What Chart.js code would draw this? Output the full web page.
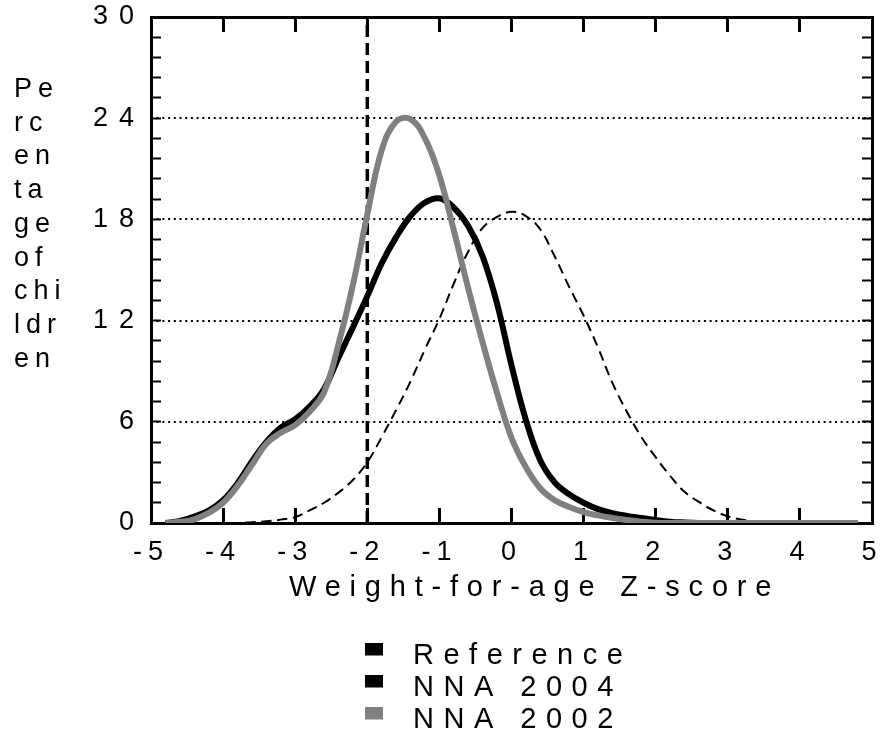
<!DOCTYPE html>
<html>
<head>
<meta charset="utf-8">
<script src="https://cdn.jsdelivr.net/npm/chart.js@4.4.1/dist/chart.umd.min.js"></script>
<style>
  html, body { margin: 0; padding: 0; background: #ffffff; }
  canvas { display: block; }
</style>
</head>
<body>
<canvas id="chart" width="882" height="742"></canvas>
<script>
// Z-score positions of the distribution points
const zScores = [
  -4.8, -4.6, -4.4, -4.2, -4.0, -3.8, -3.6, -3.4, -3.2, -3.0,
  -2.8, -2.6, -2.4, -2.2, -2.0, -1.8, -1.6, -1.4, -1.2, -1.0,
  -0.8, -0.6, -0.4, -0.2, 0.0, 0.2, 0.4, 0.6, 0.8, 1.0,
  1.2, 1.4, 1.6, 1.8, 2.0, 2.2, 2.4, 2.6, 2.8, 3.0,
  3.2, 3.4, 3.6, 3.8, 4.0, 4.2, 4.4, 4.6, 4.8
];

// Percentage of children at each Z-score
const referenceCurve = [
  0, 0, 0, 0, 0, 0, 0.05, 0.1, 0.2, 0.35,
  0.75, 1.2, 1.8, 2.55, 3.6, 5.1, 6.7, 8.4, 10.3, 12.1,
  14.2, 16.1, 17.5, 18.15, 18.45, 18.2, 17.4, 15.8, 14.0, 12.3,
  10.4, 8.3, 6.6, 5.1, 3.9, 2.8, 1.85, 1.25, 0.75, 0.4,
  0.2, 0.1, 0.05, 0, 0, 0, 0, 0, 0
];

const nna2004 = [
  0, 0.12, 0.38, 0.73, 1.35, 2.35, 3.65, 4.8, 5.65, 6.15,
  6.9, 7.95, 9.8, 11.6, 13.45, 15.4, 16.95, 18.2, 19.0, 19.25,
  18.7, 17.6, 15.8, 13.0, 9.35, 6.1, 3.7, 2.4, 1.7, 1.2,
  0.82, 0.58, 0.42, 0.3, 0.18, 0.08, 0.03, 0, 0, 0,
  0, 0, 0, 0, 0, 0, 0, 0, 0
];

const nna2002 = [
  0, 0.07, 0.22, 0.6, 1.2, 2.2, 3.45, 4.7, 5.35, 5.8,
  6.6, 7.75, 10.6, 14.1, 18.3, 22.1, 23.8, 23.95, 22.8, 20.6,
  17.35, 13.9, 10.7, 7.7, 5.05, 3.3, 2.05, 1.35, 0.95, 0.65,
  0.45, 0.3, 0.18, 0.08, 0.02, 0, 0, 0, 0, 0,
  0, 0, 0, 0, 0, 0, 0, 0, 0
];

// -2 SD cut-off for underweight
const cutoffZ = -2;

const xRange = [-5, 5];
const yRange = [0, 30];
const yTickLabels = [0, 6, 12, 18, 24, 30];
const yGridLines = [6, 12, 18, 24];

const seriesNames = ['Reference', 'NNA 2004', 'NNA 2002'];
const seriesColors = ['#000000', '#000000', '#808080'];

const xTitle = 'Weight-for-age Z-score';
const yTitleLines = ['Pe', 'rc', 'en', 'ta', 'ge', 'of', 'chi', 'ldr', 'en'];

const FONT = '"Liberation Sans", Arial, Helvetica, sans-serif';

// letter spacing used for each axis' tick labels
const labelSpacing = { x: '6px', y: '11px' };

const toPoints = (vals) => zScores.map((z, i) => ({ x: z, y: vals[i] }));

const isLabelled = (v) => yTickLabels.some((t) => Math.abs(t - v) < 1e-6);
const isGridLine = (v) => yGridLines.some((t) => Math.abs(t - v) < 1e-6);

// Spaced tick labels, axis titles and legend
const annotationPlugin = {
  id: 'annotationText',
  beforeDraw(chart) {
    Object.values(chart.scales).forEach((s) => {
      if (s._spacedLabels) return;
      const drawLabels = s.drawLabels;
      s.drawLabels = function (area) {
        const c = this.ctx;
        const prev = c.letterSpacing;
        c.letterSpacing = labelSpacing[this.id] || '0px';
        drawLabels.call(this, area);
        c.letterSpacing = prev;
      };
      s._spacedLabels = true;
    });
  },
  afterDraw(chart) {
    const ctx = chart.ctx;
    ctx.save();
    ctx.fillStyle = '#000';
    ctx.textAlign = 'left';
    ctx.textBaseline = 'alphabetic';

    // y-axis title, wrapped in a narrow column
    ctx.font = '27px ' + FONT;
    ctx.letterSpacing = '6px';
    yTitleLines.forEach((line, i) => ctx.fillText(line, 14, 97 + i * 33.7));

    // x-axis title
    ctx.font = '29px ' + FONT;
    ctx.letterSpacing = '8.8px';
    ctx.fillText(xTitle, 289, 596);

    // legend
    ctx.font = '29px ' + FONT;
    ctx.letterSpacing = '9.5px';
    seriesNames.forEach((name, i) => {
      const base = 664 + i * 32;
      ctx.fillStyle = seriesColors[i];
      ctx.fillRect(365, base - 21, 18, 12.5);
      ctx.fillStyle = '#000';
      ctx.fillText(name, 413, base);
    });
    ctx.restore();
  }
};

Chart.defaults.font.family = FONT;
Chart.defaults.color = '#000';

const lineBase = {
  pointRadius: 0,
  pointHoverRadius: 0,
  fill: false,
  tension: 0.4,
  borderJoinStyle: 'round',
  borderCapStyle: 'butt'
};

const fixSize = (w, h) => (s) => {
  if (w !== null) s.width = w;
  if (h !== null) s.height = h;
  s.paddingLeft = 0; s.paddingRight = 0; s.paddingTop = 0; s.paddingBottom = 0;
};

new Chart(document.getElementById('chart'), {
  type: 'line',
  data: {
    datasets: [
      Object.assign({}, lineBase, {
        label: seriesNames[2], data: toPoints(nna2002),
        borderColor: seriesColors[2], borderWidth: 6, order: 0
      }),
      Object.assign({}, lineBase, {
        label: seriesNames[1], data: toPoints(nna2004),
        borderColor: seriesColors[1], borderWidth: 6, order: 1
      }),
      Object.assign({}, lineBase, {
        label: seriesNames[0], data: toPoints(referenceCurve),
        borderColor: seriesColors[0], borderWidth: 2, borderDash: [10, 6], order: 2
      }),
      Object.assign({}, lineBase, {
        label: 'cut-off', data: [{ x: cutoffZ, y: yRange[0] }, { x: cutoffZ, y: yRange[1] }],
        borderColor: '#000', borderWidth: 3.5, borderDash: [12, 6], order: 3, tension: 0
      })
    ]
  },
  options: {
    responsive: false,
    devicePixelRatio: 1,
    animation: false,
    events: [],
    layout: { padding: { left: 0, right: 10, top: 17, bottom: 0 } },
    plugins: { legend: { display: false }, tooltip: { enabled: false } },
    scales: {
      x: {
        type: 'linear', position: 'bottom', min: xRange[0], max: xRange[1],
        ticks: { stepSize: 1, autoSkip: false, maxRotation: 0, padding: 28, font: { size: 27 } },
        grid: { drawOnChartArea: false, drawTicks: true, tickLength: -15, tickWidth: 3, tickColor: '#000' },
        border: { display: true, color: '#000', width: 3 },
        afterFit: fixSize(null, 219)
      },
      xTop: {
        type: 'linear', position: 'top', min: xRange[0], max: xRange[1],
        ticks: { stepSize: 1, display: false },
        grid: { drawOnChartArea: false, drawTicks: true, tickLength: -15, tickWidth: 3, tickColor: '#000' },
        border: { display: true, color: '#000', width: 3 },
        afterFit: fixSize(null, 0)
      },
      y: {
        type: 'linear', position: 'left', min: yRange[0], max: yRange[1],
        ticks: {
          stepSize: 1.2, autoSkip: false, padding: 16, font: { size: 27 },
          callback: (v) => (isLabelled(v) ? String(Math.round(v)) : '')
        },
        grid: { drawOnChartArea: false, drawTicks: true, tickLength: -10, tickWidth: 2, tickColor: '#000' },
        border: { display: true, color: '#000', width: 3 },
        afterFit: fixSize(151, null)
      },
      yRight: {
        type: 'linear', position: 'right', min: yRange[0], max: yRange[1],
        ticks: { stepSize: 1.2, display: false },
        grid: { drawOnChartArea: false, drawTicks: true, tickLength: -10, tickWidth: 2, tickColor: '#000' },
        border: { display: true, color: '#000', width: 3 },
        afterFit: fixSize(0, null)
      },
      yGrid: {
        type: 'linear', position: 'left', min: yRange[0], max: yRange[1],
        ticks: { stepSize: 6, display: false },
        grid: {
          drawOnChartArea: true, drawTicks: false, lineWidth: 2,
          color: (c) => (c.tick && isGridLine(c.tick.value) ? '#000' : 'rgba(0,0,0,0)')
        },
        border: { display: false, dash: [2, 3.7] },
        afterFit: fixSize(0, null)
      }
    }
  },
  plugins: [annotationPlugin]
});
</script>
</body>
</html>
